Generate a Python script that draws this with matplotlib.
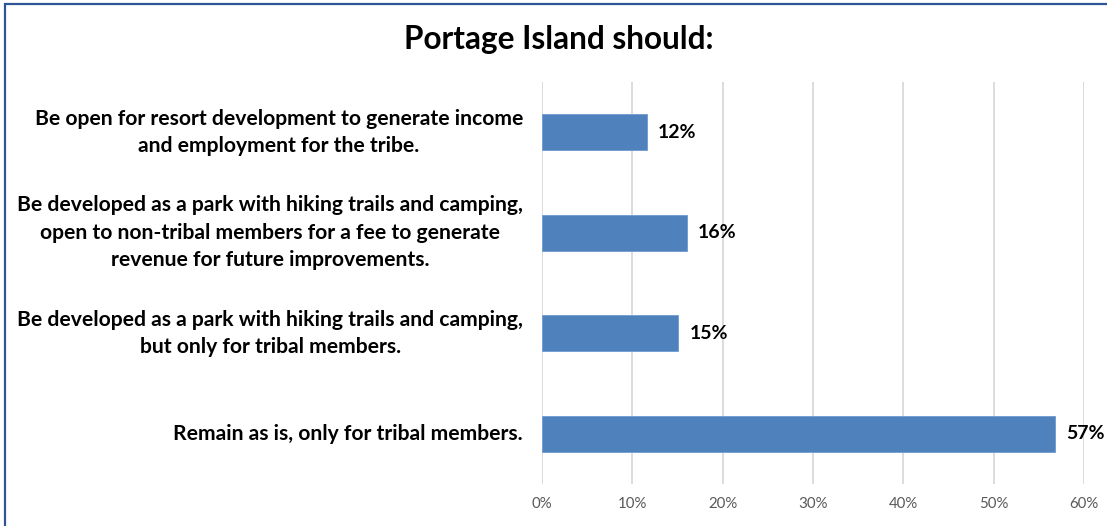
import matplotlib
matplotlib.use("Agg")
import matplotlib.pyplot as plt
from matplotlib.patches import Rectangle
from matplotlib.ticker import FuncFormatter

# Survey responses
categories = [
    "Be open for resort development to generate income\nand employment for the tribe.",
    "Be developed as a park with hiking trails and camping,\nopen to non-tribal members for a fee to generate\nrevenue for future improvements.",
    "Be developed as a park with hiking trails and camping,\nbut only for tribal members.",
    "Remain as is, only for tribal members.",
]
shares = [11.6, 16.0, 15.1, 56.8]  # percent of respondents
x_ticks = [0, 10, 20, 30, 40, 50, 60]
title = "Portage Island should:"

W, H = 1107, 526
plt.rcParams["font.family"] = ["Lato", "DejaVu Sans"]

fig = plt.figure(figsize=(W / 100, H / 100), dpi=100)
fig.patch.set_facecolor("white")

# Frame around the chart (extends past the right and bottom edges)
fig.add_artist(Rectangle((5 / W, -0.05), 1.2, 1 - 3.5 / H + 0.05,
                         transform=fig.transFigure, fill=False,
                         edgecolor="#2F5597", linewidth=1.6))

def px_box(left, top, right, bottom):
    return [left / W, 1 - bottom / H, (right - left) / W, (bottom - top) / H]

ax = fig.add_axes(px_box(542, 82, 1084, 484))

ypos = list(range(len(categories)))
ax.barh(ypos, shares, height=0.36, color="#4F81BD", edgecolor="#6F9AD0",
        linewidth=0.6, zorder=3)

ax.set_xlim(0, 60)
ax.set_ylim(len(categories) - 0.5, -0.5)
ax.set_xticks(x_ticks)
ax.xaxis.set_major_formatter(FuncFormatter(lambda v, _: f"{v:.0f}%"))
ax.tick_params(axis="x", length=0, pad=9, labelsize=10.8, labelcolor="#595959")
ax.tick_params(axis="y", length=0)
ax.set_yticks([])
ax.grid(axis="x", color="#D9D9D9", linewidth=1.3, zorder=0)
for s in ax.spines.values():
    s.set_visible(False)

# Category labels: right-aligned blocks, centred lines
for y, label in zip(ypos, categories):
    ax.annotate(label, xy=(0, y), xycoords="data", xytext=(-19, 0),
                textcoords="offset pixels", ha="right", va="center",
                multialignment="center", fontsize=15.2, fontweight="bold",
                linespacing=1.46, color="black")

# Value labels
for y, v in zip(ypos, shares):
    ax.annotate(f"{v:.0f}%", xy=(v, y), xytext=(11, 0),
                textcoords="offset pixels", ha="left", va="center",
                fontsize=14, fontweight="bold", color="black")

fig.text(559 / W, 1 - 40 / H, title, ha="center", va="center",
         fontsize=22.7, fontweight="bold", color="black")

fig.savefig("out.png", dpi=100)
